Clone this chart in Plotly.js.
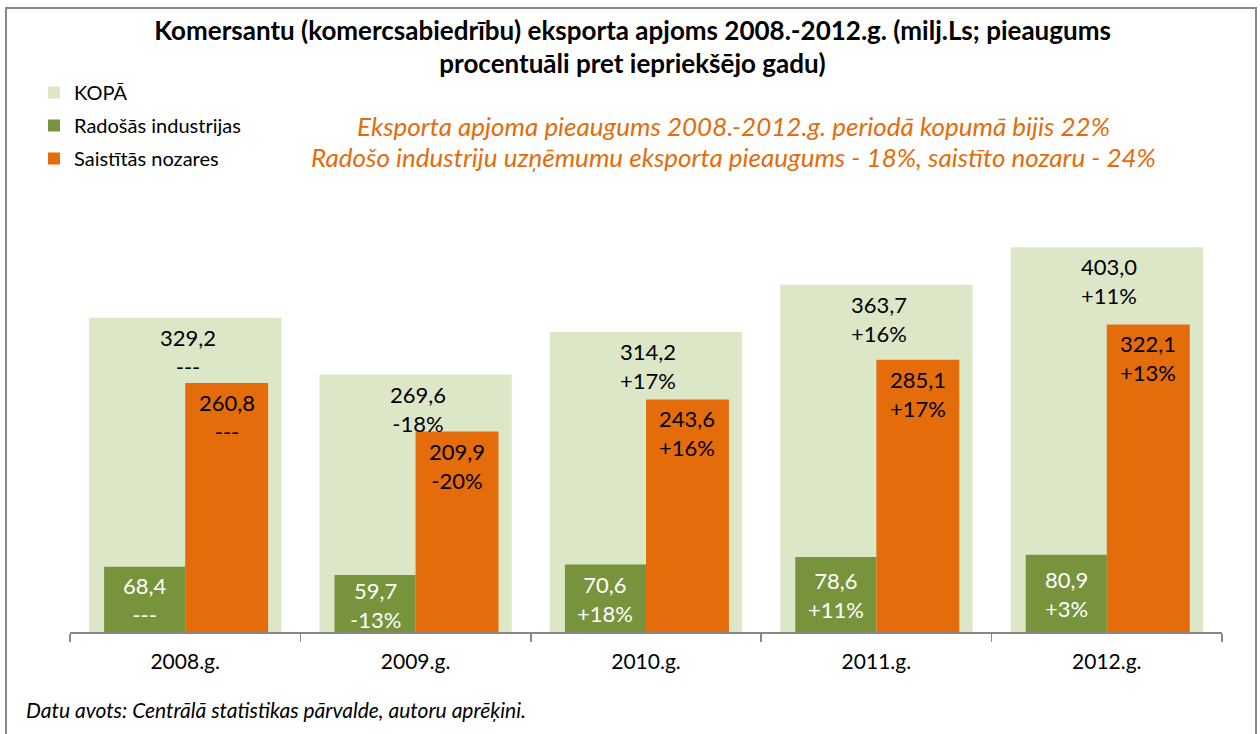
<!DOCTYPE html>
<html>
<head>
<meta charset="utf-8">
<script src="https://cdn.plot.ly/plotly-3.0.1.min.js"></script>
<style>html,body{margin:0;padding:0;background:#fff;}#chart{width:1260px;height:734px;}</style>
</head>
<body>
<div id="chart"></div>
<script>
const categories = ['2008.g.', '2009.g.', '2010.g.', '2011.g.', '2012.g.'];
const kopa = [329.2, 269.6, 314.2, 363.7, 403.0];
const radosas = [68.4, 59.7, 70.6, 78.6, 80.9];
const saistitas = [260.8, 209.9, 243.6, 285.1, 322.1];
const kopaPct = ['---', '-18%', '+17%', '+16%', '+11%'];
const radosasPct = ['---', '-13%', '+18%', '+11%', '+3%'];
const saistitasPct = ['---', '-20%', '+16%', '+17%', '+13%'];
const seriesNames = ['KOPĀ', 'Radošās industrijas', 'Saistītās nozares'];

const FONT = 'Lato, "Open Sans", sans-serif';
const fmt = v => v.toFixed(1).replace('.', ',');

const W = 1260, H = 734;
const L = 70, R = 38, T = 231, B = 102;
const pw = W - L - R, ph = H - T - B;
const px = x => (x - L) / pw;
const py = y => (H - B - y) / ph;

const traces = [
  {type: 'bar', name: seriesNames[0], legendgroup: 'a', x: categories, y: kopa, width: 0.835, offset: -0.4175,
   marker: {color: '#DCE7C8'}, hoverinfo: 'y'},
  {type: 'bar', name: seriesNames[1], legendgroup: 'b', x: categories, y: radosas, width: 0.352, offset: -0.352,
   marker: {color: '#77933C'}, hoverinfo: 'y'},
  {type: 'bar', name: seriesNames[2], legendgroup: 'c', x: categories, y: saistitas, width: 0.36, offset: 0,
   marker: {color: '#E46C0A'}, hoverinfo: 'y'}
];

const LBL = 22;
const annotations = [];
categories.forEach((c, i) => {
  annotations.push({x: i + 0.01, y: kopa[i], xref: 'x', yref: 'y', yanchor: 'top', yshift: -4,
    text: fmt(kopa[i]) + '<br>' + kopaPct[i], showarrow: false,
    font: {family: FONT, size: LBL, color: '#000'}});
  annotations.push({x: i + 0.18, y: saistitas[i], xref: 'x', yref: 'y', yanchor: 'top', yshift: -4,
    text: fmt(saistitas[i]) + '<br>' + saistitasPct[i], showarrow: false,
    font: {family: FONT, size: LBL, color: '#000'}});
  annotations.push({x: i - 0.176, y: radosas[i] / 2, xref: 'x', yref: 'y', yanchor: 'middle', yshift: -1,
    text: fmt(radosas[i]) + '<br>' + radosasPct[i], showarrow: false,
    font: {family: FONT, size: LBL, color: '#fff'}});
});

annotations.push({xref: 'paper', yref: 'paper', x: px(733), y: py(126), xanchor: 'center', yanchor: 'middle',
  text: '<i>Eksporta apjoma pieaugums 2008.-2012.g. periodā kopumā bijis 22%</i>', showarrow: false,
  font: {family: FONT, size: 26, color: '#E46C0A'}});
annotations.push({xref: 'paper', yref: 'paper', x: px(733), y: py(157), xanchor: 'center', yanchor: 'middle',
  text: '<i>Radošo industriju uzņēmumu eksporta pieaugums - 18%, saistīto nozaru - 24%</i>', showarrow: false,
  font: {family: FONT, size: 26, color: '#E46C0A'}});
annotations.push({xref: 'paper', yref: 'paper', x: px(24), y: py(709), xanchor: 'left', yanchor: 'middle',
  text: '<i>Datu avots: Centrālā statistikas pārvalde, autoru aprēķini.</i>', showarrow: false,
  font: {family: FONT, size: 21, color: '#000'}});

const layout = {
  width: W, height: H,
  margin: {l: L, r: R, t: T, b: B},
  paper_bgcolor: '#fff', plot_bgcolor: '#fff',
  barmode: 'overlay',
  title: {text: '<b>Komersantu (komercsabiedrību) eksporta apjoms 2008.-2012.g. (milj.Ls; pieaugums<br>procentuāli pret iepriekšējo gadu)</b>',
    x: 0.502, xanchor: 'center', y: 1 - 39.5 / H, yanchor: 'middle',
    font: {family: FONT, size: 26, color: '#000'}},
  xaxis: {type: 'category', range: [-0.5, 4.5], showline: true, linecolor: '#888', linewidth: 1.5,
    ticks: 'outside', tickson: 'boundaries', ticklen: 8, tickcolor: '#888', tickwidth: 1.5,
    ticklabelstandoff: 10,
    tickfont: {family: FONT, size: 21, color: '#000'}, showgrid: false, zeroline: false, fixedrange: true},
  yaxis: {range: [0, 420], visible: false, showgrid: false, zeroline: false, fixedrange: true},
  showlegend: true,
  legend: {x: px(34), y: py(73), xanchor: 'left', yanchor: 'top', orientation: 'v',
    font: {family: FONT, size: 20, color: '#000'}, tracegroupgap: 4, itemwidth: 30,
    bgcolor: 'rgba(0,0,0,0)', traceorder: 'grouped'},
  annotations: annotations,
  shapes: [{type: 'rect', xref: 'paper', yref: 'paper', x0: px(6), x1: px(1256), y0: py(760), y1: py(8),
    line: {color: '#888', width: 2}, fillcolor: 'rgba(0,0,0,0)', layer: 'above'}]
};

Plotly.newPlot('chart', traces, layout, {displayModeBar: false, staticPlot: true});
</script>
</body>
</html>
